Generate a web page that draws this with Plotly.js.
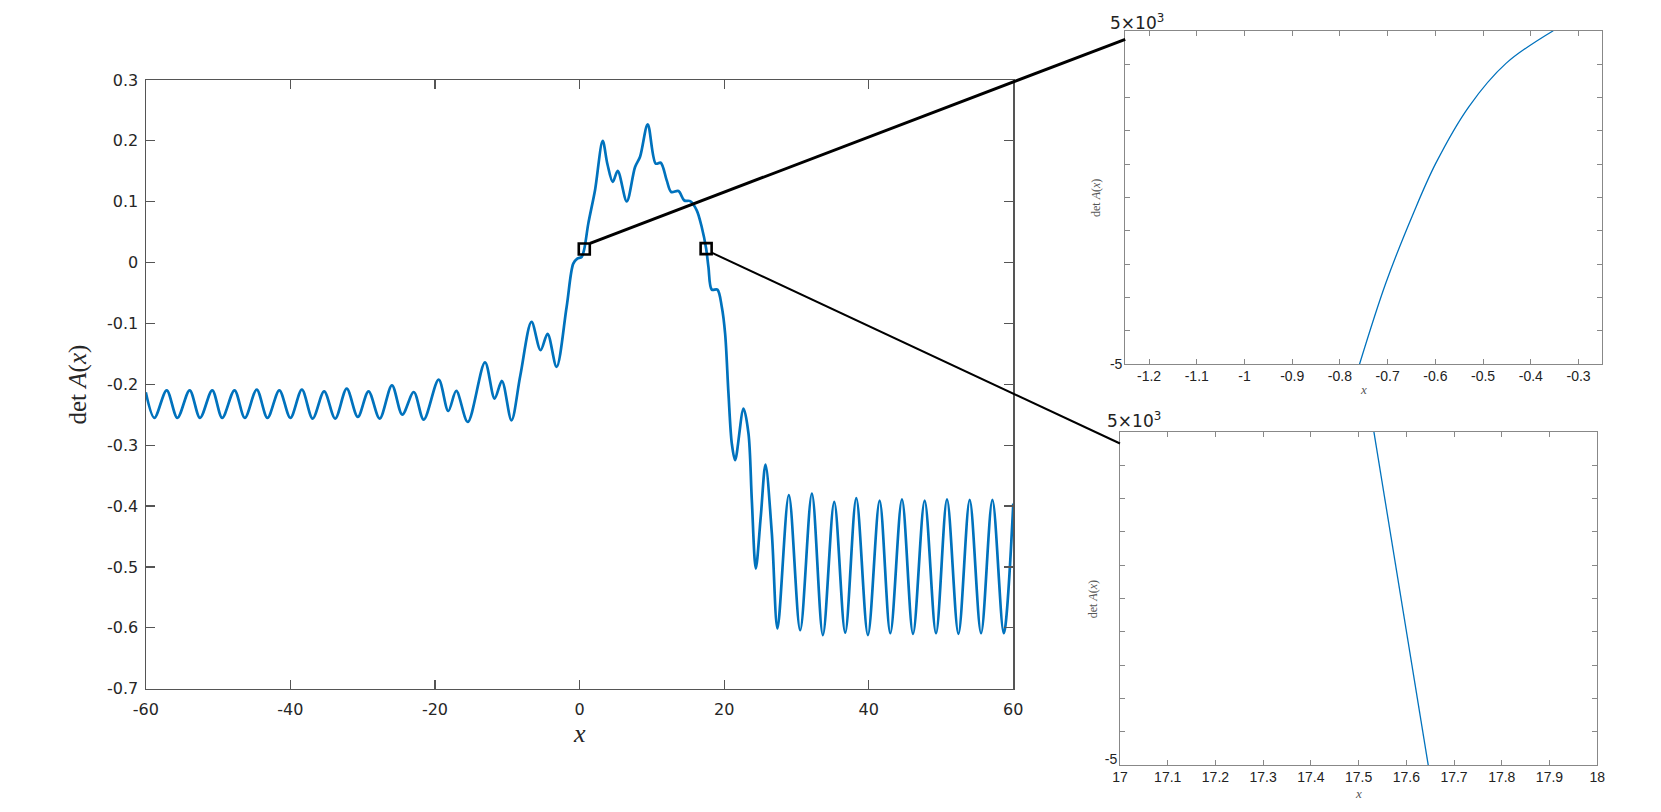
<!DOCTYPE html>
<html>
<head>
<meta charset="utf-8">
<script src="https://cdn.plot.ly/plotly-3.0.1.min.js"></script>
<style>
  html, body { margin: 0; padding: 0; background: #fff; }
  #chart { width: 1661px; height: 812px; }
</style>
</head>
<body>
<div id="chart"></div>
<script>
// main curve, det A(x) (peaks, troughs and turning points)
const detX = [
  -60, -58.81, -57.11, -55.63, -53.93, -52.5, -50.81, -49.43, -47.73, -46.3,
  -44.66, -43.17, -41.53, -40.0, -38.41, -36.92, -35.33, -33.8, -32.21, -30.67,
  -29.19, -27.65, -25.95, -24.52, -22.93, -21.56, -19.49, -18.16, -17.05, -15.46,
  -13.08, -11.75, -10.74, -9.42, -8.2, -6.64, -5.39, -4.42, -3.18, -1.79,
  -0.87, -0.31, 0.29, 0.655, 1.21, 2.14, 3.2, 3.85, 4.59, 5.28,
  6.53, 7.68, 8.37, 9.43, 10.54, 11.23, 12.06, 12.68, 13.69, 14.49,
  15.3, 16.21, 16.9, 17.51, 17.83, 18.29, 19.07, 19.68, 20.14, 20.6,
  21.06, 21.52, 22.68, 23.37, 23.83, 24.38, 25.07, 25.72, 26.6, 27.38,
  28.95, 30.52, 32.14, 33.66, 35.23, 36.75, 38.28, 39.89, 41.51, 42.99,
  44.6, 46.13, 47.74, 49.31, 50.83, 52.41, 53.97, 55.54, 57.11, 58.68, 60
];
const detY = [
  -0.213, -0.2552, -0.2098, -0.2552, -0.2098, -0.2552, -0.2098, -0.2552, -0.2098, -0.2552,
  -0.2087, -0.2552, -0.2098, -0.2552, -0.2087, -0.2563, -0.2115, -0.2563, -0.2071, -0.2536,
  -0.2115, -0.2563, -0.2016, -0.2498, -0.2126, -0.258, -0.1923, -0.2438, -0.2109, -0.2618,
  -0.164, -0.2235, -0.1945, -0.2591, -0.186, -0.0975, -0.144, -0.117, -0.1714, -0.0729,
  -0.0017, 0.0065, 0.0092, 0.0224, 0.064, 0.119, 0.1998, 0.162, 0.1325, 0.1506,
  0.1007, 0.157, 0.1738, 0.2272, 0.1626, 0.164, 0.135, 0.116, 0.1175, 0.102,
  0.101, 0.0859, 0.0585, 0.023, -0.0072, -0.0444, -0.0444, -0.0729, -0.117, -0.215,
  -0.297, -0.3247, -0.2398, -0.281, -0.39, -0.5027, -0.417, -0.3318, -0.445, -0.601,
  -0.382, -0.604, -0.3795, -0.612, -0.393, -0.608, -0.387, -0.612, -0.391, -0.609,
  -0.389, -0.61, -0.391, -0.609, -0.389, -0.61, -0.39, -0.609, -0.39, -0.609, -0.396
];

// zoom boxes marked on the main curve
const boxX = [0.655, 17.51];
const boxY = [0.0224, 0.023];

// inset 1: close-up near x = -0.75
const zoom1X = [-0.759, -0.704, -0.646, -0.599, -0.53, -0.452, -0.353];
const zoom1Y = [-5, -2.57, -0.47, 1.03, 2.72, 4.02, 5];

// inset 2: close-up near x = 17.6
const zoom2X = [17.532, 17.646];
const zoom2Y = [5, -5];

// tick labels
const mainXTicks = [-60, -40, -20, 0, 20, 40, 60];
const mainXText = ["-60", "-40", "-20", "0", "20", "40", "60"];
const mainYTicks = [0.3, 0.2, 0.1, 0, -0.1, -0.2, -0.3, -0.4, -0.5, -0.6, -0.7];
const mainYText = ["0.3", "0.2", "0.1", "0", "-0.1", "-0.2", "-0.3", "-0.4", "-0.5", "-0.6", "-0.7"];
const zoom1XTicks = [-1.2, -1.1, -1.0, -0.9, -0.8, -0.7, -0.6, -0.5, -0.4, -0.3];
const zoom1XText = ["-1.2", "-1.1", "-1", "-0.9", "-0.8", "-0.7", "-0.6", "-0.5", "-0.4", "-0.3"];
const zoom2XTicks = [17, 17.1, 17.2, 17.3, 17.4, 17.5, 17.6, 17.7, 17.8, 17.9, 18];
const zoom2XText = ["17", "17.1", "17.2", "17.3", "17.4", "17.5", "17.6", "17.7", "17.8", "17.9", "18"];
const zoomYTicks = [-5];
const zoomYText = ["-5"];

const blue = "#0072BD";
const sans = "DejaVu Sans, Liberation Sans, sans-serif";
const narrow = "Liberation Sans Narrow, Liberation Sans, Arial, sans-serif";
const serif = "Liberation Serif, DejaVu Serif, serif";

function mainAxis(extra) {
  return Object.assign({
    showline: true,
    linecolor: "#555",
    linewidth: 1.3,
    mirror: "ticks",
    ticks: "inside",
    ticklen: 9,
    tickcolor: "#555",
    tickwidth: 1.2,
    showgrid: false,
    zeroline: false,
    tickfont: { family: sans, size: 16, color: "#262626" },
  }, extra);
}

function insetAxis(extra) {
  return Object.assign({
    showline: true,
    linecolor: "#888",
    linewidth: 1,
    mirror: "ticks",
    ticks: "inside",
    ticklen: 5,
    tickcolor: "#888",
    tickwidth: 1,
    showgrid: false,
    zeroline: false,
    tickfont: { family: narrow, size: 14, color: "#222" },
  }, extra);
}

const data = [
  {
    x: detX,
    y: detY,
    type: "scatter",
    mode: "lines",
    line: { color: blue, width: 2.7, shape: "spline", smoothing: 0.9 },
    xaxis: "x",
    yaxis: "y",
    hoverinfo: "skip",
  },
  {
    x: boxX,
    y: boxY,
    type: "scatter",
    mode: "markers",
    marker: { symbol: "square-open", size: 11, color: "#000", line: { width: 2.6, color: "#000" } },
    xaxis: "x",
    yaxis: "y",
    cliponaxis: false,
    hoverinfo: "skip",
  },
  {
    x: zoom1X,
    y: zoom1Y,
    type: "scatter",
    mode: "lines",
    line: { color: blue, width: 1.3, shape: "spline" },
    xaxis: "x2",
    yaxis: "y2",
    hoverinfo: "skip",
  },
  {
    x: zoom2X,
    y: zoom2Y,
    type: "scatter",
    mode: "lines",
    line: { color: blue, width: 1.3 },
    xaxis: "x3",
    yaxis: "y3",
    hoverinfo: "skip",
  },
];

const insetYMinor = { dtick: 1, ticks: "inside", ticklen: 5, tickcolor: "#888", tickwidth: 1, showgrid: false };

const layout = {
  width: 1661,
  height: 812,
  margin: { l: 0, r: 0, t: 0, b: 0 },
  paper_bgcolor: "#fff",
  plot_bgcolor: "#fff",
  showlegend: false,
  xaxis: mainAxis({ domain: [0.08778, 0.61005], anchor: "y", range: [-60, 60], tickvals: mainXTicks, ticktext: mainXText, ticklabelstandoff: 6 }),
  yaxis: mainAxis({ domain: [0.1519, 0.9015], anchor: "x", range: [-0.7, 0.3], tickvals: mainYTicks, ticktext: mainYText, ticklabelstandoff: 3 }),
  xaxis2: insetAxis({ domain: [0.67742, 0.96472], anchor: "y2", range: [-1.25, -0.25], tickvals: zoom1XTicks, ticktext: zoom1XText, ticklabelstandoff: -1 }),
  yaxis2: insetAxis({ domain: [0.55135, 0.96219], anchor: "x2", range: [-5, 5], tickvals: zoomYTicks, ticktext: zoomYText, minor: insetYMinor, ticklabelstandoff: -1 }),
  xaxis3: insetAxis({ domain: [0.67429, 0.96159], anchor: "y3", range: [17, 18], tickvals: zoom2XTicks, ticktext: zoom2XText, ticklabelstandoff: -1 }),
  yaxis3: insetAxis({ domain: [0.05751, 0.46835], anchor: "x3", range: [-5, 5], tickvals: zoomYTicks, ticktext: zoomYText, minor: insetYMinor, ticklabelstandoff: -1, ticklabelshift: -6 }),
  shapes: [
    { type: "line", xref: "paper", yref: "paper", x0: 0.35521, y0: 0.70037, x1: 0.67742, y1: 0.9516, line: { color: "#000", width: 3 } },
    { type: "line", xref: "paper", yref: "paper", x0: 0.42848, y0: 0.6888, x1: 0.67429, y1: 0.45382, line: { color: "#000", width: 2 } },
  ],
  annotations: [
    { text: "det <i>A</i>(<i>x</i>)", x: 0.04726, y: 0.52709, textangle: -90, font: { family: serif, size: 25, color: "#262626" } },
    { text: "<i>x</i>", x: 0.34877, y: 0.09692, font: { family: serif, size: 26, color: "#262626" } },
    { text: "det <i>A</i>(<i>x</i>)", x: 0.66027, y: 0.75579, textangle: -90, font: { family: serif, size: 12, color: "#555" } },
    { text: "<i>x</i>", x: 0.82083, y: 0.52057, font: { family: serif, size: 13, color: "#555" } },
    { text: "det <i>A</i>(<i>x</i>)", x: 0.65804, y: 0.26195, textangle: -90, font: { family: serif, size: 12, color: "#555" } },
    { text: "<i>x</i>", x: 0.81794, y: 0.02323, font: { family: serif, size: 13, color: "#555" } },
    { text: "5×10<sup>3</sup>", x: 0.68453, y: 0.97291, font: { family: sans, size: 17, color: "#222" } },
    { text: "5×10<sup>3</sup>", x: 0.6829, y: 0.48315, font: { family: sans, size: 17, color: "#222" } },
  ].map((a) => Object.assign({ xref: "paper", yref: "paper", xanchor: "center", yanchor: "middle", showarrow: false }, a)),
};

Plotly.newPlot("chart", data, layout, { displayModeBar: false, staticPlot: true });
</script>
</body>
</html>
